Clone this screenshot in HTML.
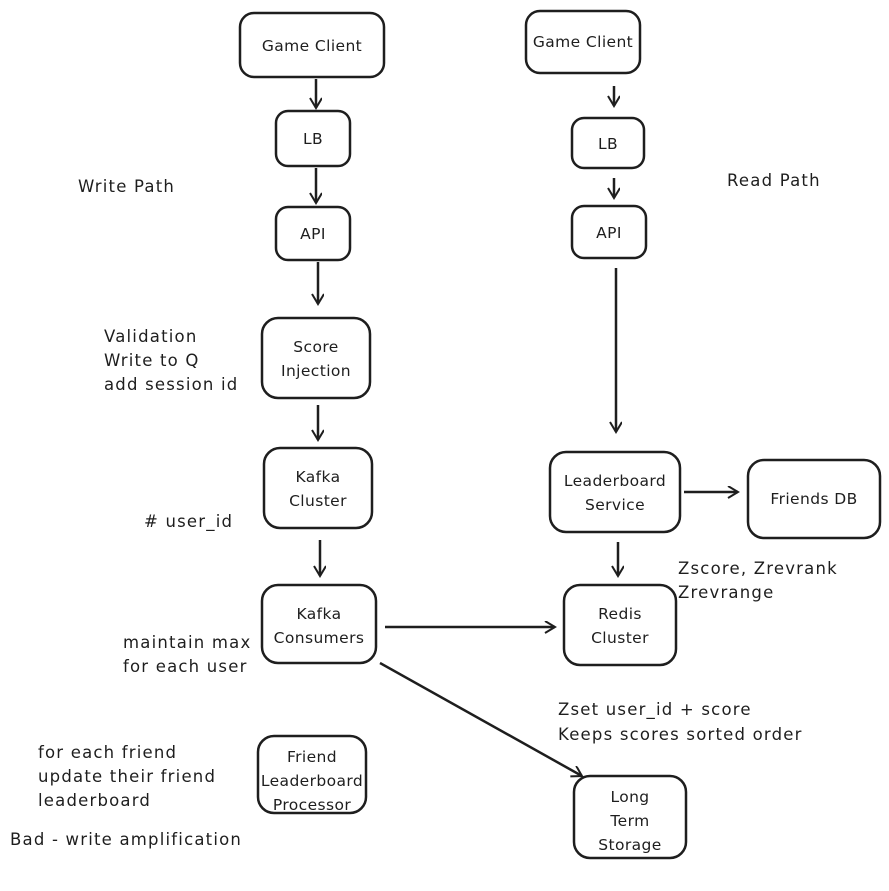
<!DOCTYPE html>
<html><head><meta charset="utf-8"><style>
html,body{margin:0;padding:0;background:#fff;}
svg text{font-family:"DejaVu Sans",sans-serif;font-size:16px;fill:#1e1e1e;}
svg text.n{font-size:16.5px;letter-spacing:1.2px;}
svg text.b{font-size:15.5px;letter-spacing:0.4px;}
</style></head><body>
<svg width="889" height="886" viewBox="0 0 889 886" xmlns="http://www.w3.org/2000/svg">
<defs><marker id="a" markerWidth="14" markerHeight="14" refX="11" refY="6" orient="auto" markerUnits="userSpaceOnUse"><path d="M1,0 L11,6 L1,12" fill="none" stroke="#1e1e1e" stroke-width="2"/></marker></defs>
<g fill="none" stroke="#1e1e1e" stroke-width="2.5">
<rect x="240" y="13" width="144" height="64" rx="14"/>
<rect x="276" y="111" width="74" height="55" rx="12"/>
<rect x="276" y="207" width="74" height="53" rx="12"/>
<rect x="262" y="318" width="108" height="80" rx="16"/>
<rect x="264" y="448" width="108" height="80" rx="16"/>
<rect x="262" y="585" width="114" height="78" rx="16"/>
<rect x="258" y="736" width="108" height="77" rx="16"/>
<rect x="526" y="11" width="114" height="62" rx="14"/>
<rect x="572" y="118" width="72" height="50" rx="12"/>
<rect x="572" y="206" width="74" height="52" rx="12"/>
<rect x="550" y="452" width="130" height="80" rx="16"/>
<rect x="748" y="460" width="132" height="78" rx="16"/>
<rect x="564" y="585" width="112" height="80" rx="16"/>
<rect x="574" y="776" width="112" height="82" rx="16"/>
<g marker-end="url(#a)">
<line x1="316" y1="79" x2="316" y2="108"/>
<line x1="316" y1="168" x2="316" y2="203"/>
<line x1="318" y1="262" x2="318" y2="304"/>
<line x1="318" y1="405" x2="318" y2="440"/>
<line x1="320" y1="540" x2="320" y2="576"/>
<line x1="614" y1="86" x2="614" y2="106"/>
<line x1="614" y1="178" x2="614" y2="198"/>
<line x1="616" y1="268" x2="616" y2="432"/>
<line x1="618" y1="542" x2="618" y2="576"/>
<line x1="684" y1="492" x2="738" y2="492"/>
<line x1="385" y1="627" x2="555" y2="627"/>
<line x1="380" y1="663" x2="582" y2="776"/>
</g></g>
<g text-anchor="middle">
<text class="b" x="312" y="51">Game Client</text>
<text class="b" x="313" y="144">LB</text>
<text class="b" x="313" y="239">API</text>
<text class="b" x="316" y="352">Score</text><text class="b" x="316" y="376">Injection</text>
<text class="b" x="318" y="482">Kafka</text><text class="b" x="318" y="506">Cluster</text>
<text class="b" x="319" y="619">Kafka</text><text class="b" x="319" y="643">Consumers</text>
<text class="b" x="312" y="762">Friend</text><text class="b" x="312" y="786">Leaderboard</text><text class="b" x="312" y="810">Processor</text>
<text class="b" x="583" y="47">Game Client</text>
<text class="b" x="608" y="149">LB</text>
<text class="b" x="609" y="238">API</text>
<text class="b" x="615" y="486">Leaderboard</text><text class="b" x="615" y="510">Service</text>
<text class="b" x="814" y="504">Friends DB</text>
<text class="b" x="620" y="619">Redis</text><text class="b" x="620" y="643">Cluster</text>
<text class="b" x="630" y="802">Long</text><text class="b" x="630" y="826">Term</text><text class="b" x="630" y="850">Storage</text>
</g>
<text class="n" x="78" y="192">Write Path</text>
<text class="n" x="727" y="186">Read Path</text>
<text class="n" x="104" y="342">Validation</text>
<text class="n" x="104" y="366">Write to Q</text>
<text class="n" x="104" y="390">add session id</text>
<text class="n" x="144" y="527"># user_id</text>
<text class="n" x="123" y="648">maintain max</text>
<text class="n" x="123" y="672">for each user</text>
<text class="n" x="678" y="574">Zscore, Zrevrank</text>
<text class="n" x="678" y="598">Zrevrange</text>
<text class="n" x="558" y="715">Zset user_id + score</text>
<text class="n" x="558" y="740">Keeps scores sorted order</text>
<text class="n" x="38" y="758">for each friend</text>
<text class="n" x="38" y="782">update their friend</text>
<text class="n" x="38" y="806">leaderboard</text>
<text class="n" x="10" y="845">Bad - write amplification</text>
</svg>
</body></html>
